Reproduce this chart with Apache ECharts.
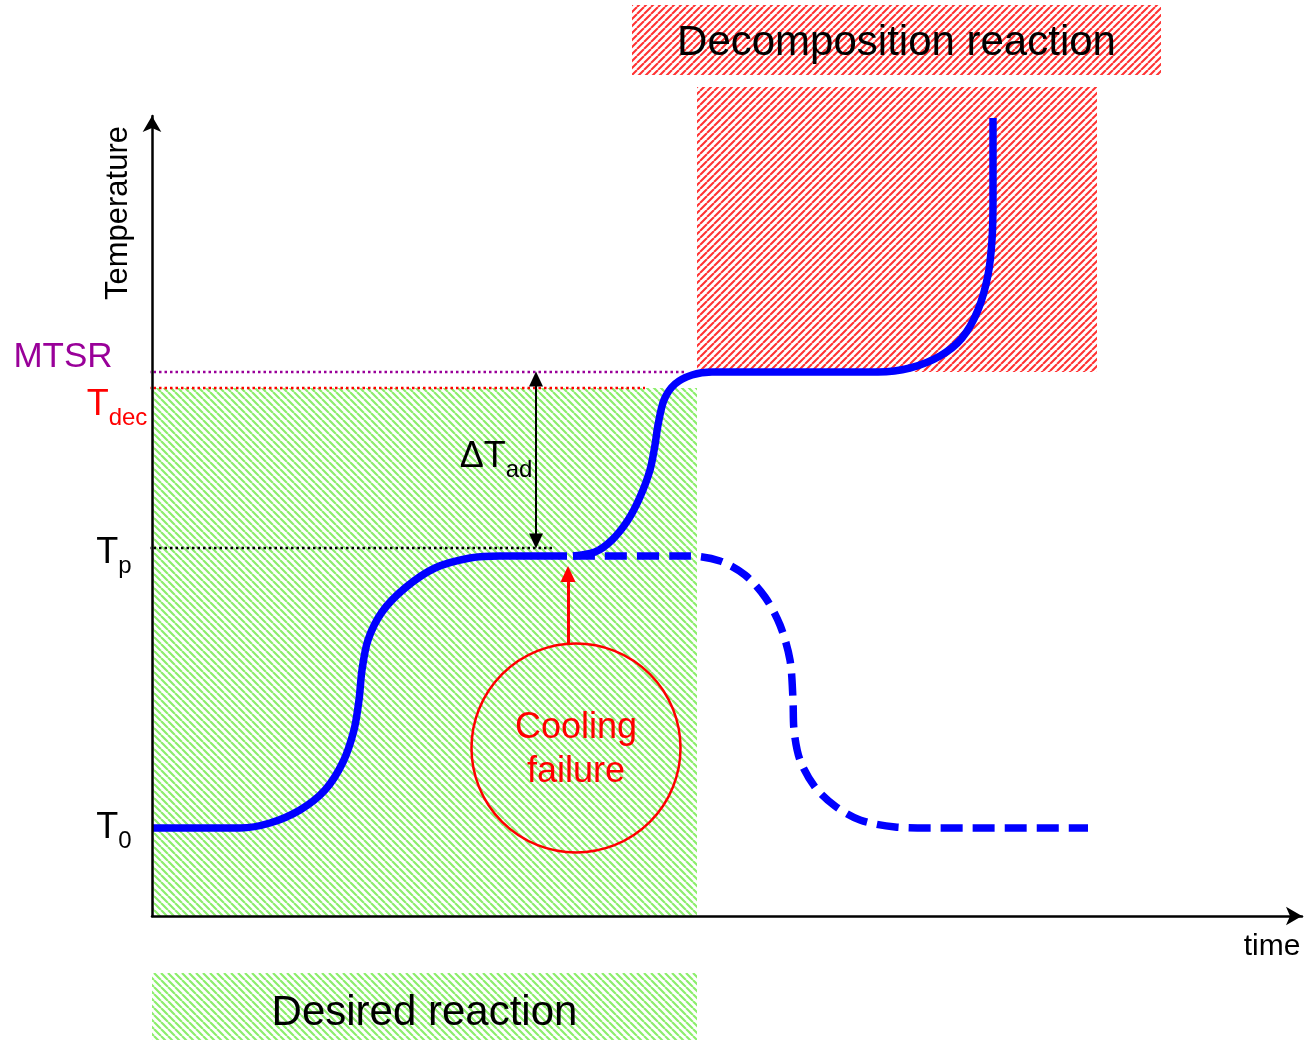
<!DOCTYPE html>
<html>
<head>
<meta charset="utf-8">
<script src="https://cdn.jsdelivr.net/npm/echarts@6/dist/echarts.min.js"></script>
<style>
  html, body { margin: 0; padding: 0; background: #fff; }
  #chart { width: 1305px; height: 1040px; }
</style>
</head>
<body>
<div id="chart"></div>
<script>
// time / temperature in arbitrary units (schematic)
var normalRun = [[0,88],[88,88],[118,93],[148,106],[173,126],[191,154],[202,186],[207,216],[210,246],[216,276],[230,304],[253,328],[283,348],[318,358],[348,360],[415,360]];
var runaway = [[421,360],[443,364],[460,376],[476,396],[488,419],[498,446],[503,471],[506,491],[512,516],[523,532],[540,541],[560,544],[726,544],[758,548],[788,560],[810,578],[826,606],[836,641],[840,676],[841,716],[841,798]];
var cooledDown = [[421,360],[538,360],[568,355],[593,341],[613,319],[628,291],[638,256],[641,216],[642,186],[648,156],[663,129],[683,110],[708,96],[743,89],[778,88],[936,88]];

// temperature levels
var levelMTSR = 544;
var levelTdec = 528;
var levelTp = 368;
var levelEnds = [[-15, 535], [-15, 493], [-15, 401]]; // x start/end of dotted lines

// hatched zones: x0, x1, y0, y1, kind (0 = desired, 1 = decomposition)
var zones = [[0,545,0,528,0],[545,945,544,829,1],[480,1009,841,911,1],[0,545,-124,-57,0]];
var zoneNames = ['', '', 'Decomposition reaction', 'Desired reaction'];

var coolingFailure = [424, 168];
var failureArrow = [416, 271, 342];
var adiabaticRise = [384, levelTp + 7, levelMTSR - 7];

var FONT = "'Liberation Sans', Arial, sans-serif";

// hatch patterns
function hatch(color, size, width, down) {
  var c = document.createElement('canvas');
  c.width = size; c.height = size;
  var ctx = c.getContext('2d');
  ctx.strokeStyle = color;
  ctx.lineWidth = width;
  ctx.beginPath();
  [-size, 0, size].forEach(function (k) {
    if (down) { ctx.moveTo(k, 0); ctx.lineTo(k + size, size); }
    else { ctx.moveTo(k, size); ctx.lineTo(k + size, 0); }
  });
  ctx.stroke();
  return { image: c, repeat: 'repeat' };
}
var patterns = [hatch('#8CEE6C', 7, 2.2, true), hatch('#FF3333', 7, 2.1, false)];

var chart = echarts.init(document.getElementById('chart'));

function richFor(color) {
  return {
    t: { fontSize: 36, color: color, fontFamily: FONT },
    s: { fontSize: 24, color: color, fontFamily: FONT, padding: [26, 0, 0, 0] },
    m: { fontSize: 35, color: color, fontFamily: FONT }
  };
}

var texts = [
  { value: [-89, 559], text: '{m|MTSR}', color: '#990099' },
  { value: [-35, 511], text: '{t|T}{s|dec}', color: '#FF0000' },
  { value: [-38, 363], text: '{t|T}{s|p}', color: '#000' },
  { value: [-38, 88], text: '{t|T}{s|0}', color: '#000' },
  { value: [344, 459], text: '{t|ΔT}{s|ad}', color: '#000' }
];

var option = {
  animation: false,
  grid: { left: 152, right: 3, top: 116, bottom: 124 },
  xAxis: {
    type: 'value', min: 0, max: 1150, z: 10,
    axisLine: { show: true, symbol: ['none', 'arrow'], symbolSize: [14, 16], lineStyle: { color: '#000', width: 2.5 } },
    axisTick: { show: false }, axisLabel: { show: false }, splitLine: { show: false }
  },
  yAxis: {
    type: 'value', min: 0, max: 800, z: 10,
    axisLine: { show: true, symbol: ['none', 'arrow'], symbolSize: [14, 16], lineStyle: { color: '#000', width: 2.5 } },
    axisTick: { show: false }, axisLabel: { show: false }, splitLine: { show: false }
  },
  series: [
    {
      type: 'custom',
      clip: false,
      z: 1,
      data: zones,
      renderItem: function (params, api) {
        var p0 = api.coord([api.value(0), api.value(3)]);
        var p1 = api.coord([api.value(1), api.value(2)]);
        var name = zoneNames[params.dataIndex];
        var el = {
          type: 'rect',
          shape: { x: p0[0], y: p0[1], width: p1[0] - p0[0], height: p1[1] - p0[1] },
          style: { fill: patterns[api.value(4)] }
        };
        if (name) {
          el.textContent = { style: { text: name, fontSize: 42, fontFamily: FONT, fill: '#000' } };
          el.textConfig = { position: 'inside', offset: [0, params.dataIndex === 3 ? 7 : 3] };
        }
        return el;
      }
    },
    // dotted level lines
    {
      type: 'line', clip: false, z: 3, showSymbol: false,
      data: [[levelEnds[0][0], levelMTSR], [levelEnds[0][1], levelMTSR]],
      lineStyle: { color: '#990099', width: 2.5, type: [2.5, 3] }
    },
    {
      type: 'line', clip: false, z: 3, showSymbol: false,
      data: [[levelEnds[1][0], levelTdec], [levelEnds[1][1], levelTdec]],
      lineStyle: { color: '#FF0000', width: 2.5, type: [2.5, 3] }
    },
    {
      type: 'line', clip: false, z: 3, showSymbol: false,
      data: [[levelEnds[2][0], levelTp], [levelEnds[2][1], levelTp]],
      lineStyle: { color: '#000', width: 2.5, type: [2.5, 3] }
    },
    {
      type: 'line', z: 5, showSymbol: false, smooth: 0.3,
      data: cooledDown,
      lineStyle: { color: '#0000FF', width: 7.5, type: [22, 10], cap: 'butt' }
    },
    {
      type: 'line', z: 5, showSymbol: false, smooth: 0.3,
      data: runaway,
      lineStyle: { color: '#0000FF', width: 7.5 }
    },
    {
      type: 'line', z: 5, showSymbol: false, smooth: 0.3,
      data: normalRun,
      lineStyle: { color: '#0000FF', width: 7.5 },
      markLine: {
        silent: true,
        label: { show: false },
        data: [
          [{ coord: [adiabaticRise[0], adiabaticRise[1]], symbol: 'triangle', symbolSize: [14, 15], lineStyle: { color: '#000', width: 2, type: 'solid' }, itemStyle: { color: '#000' } },
           { coord: [adiabaticRise[0], adiabaticRise[2]], symbol: 'triangle', symbolSize: [14, 15] }],
          [{ coord: [failureArrow[0], failureArrow[1]], symbol: 'none', lineStyle: { color: '#FF0000', width: 3, type: 'solid' }, itemStyle: { color: '#FF0000' } },
           { coord: [failureArrow[0], failureArrow[2]], symbol: 'triangle', symbolSize: [15, 16] }]
        ]
      }
    },
    // cooling failure circle
    {
      type: 'scatter', z: 6,
      data: [coolingFailure],
      symbol: 'circle', symbolSize: 209,
      itemStyle: { color: 'rgba(0,0,0,0)', borderColor: '#FF0000', borderWidth: 2.5, opacity: 1 },
      label: {
        show: true, position: 'inside', formatter: 'Cooling\nfailure',
        color: '#FF0000', fontSize: 36, lineHeight: 44, fontFamily: FONT, offset: [0, 2]
      }
    },
    // level labels
    {
      type: 'scatter', z: 6, clip: false, symbolSize: 0,
      itemStyle: { opacity: 1 },
      data: texts.map(function (t) {
        return {
          value: t.value,
          label: { show: true, position: 'inside', formatter: t.text, rich: richFor(t.color) }
        };
      })
    },
    // axis names
    {
      type: 'scatter', z: 6, clip: false, symbolSize: 0,
      itemStyle: { opacity: 1 },
      data: [
        { value: [-34, 703], label: { show: true, position: 'inside', formatter: 'Temperature', rotate: 90, fontSize: 31, color: '#000', fontFamily: FONT } },
        { value: [1120, -31], label: { show: true, position: 'inside', formatter: 'time', fontSize: 30, color: '#000', fontFamily: FONT } }
      ]
    }
  ]
};

chart.setOption(option);
</script>
</body>
</html>
